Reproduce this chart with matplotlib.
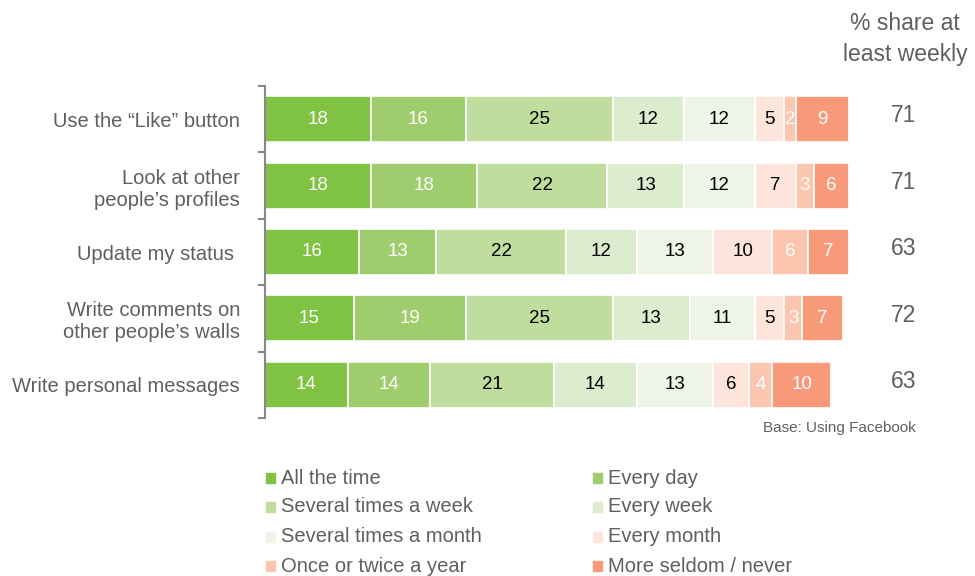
import matplotlib.pyplot as plt
from matplotlib.patches import Rectangle
from matplotlib.transforms import blended_transform_factory
import numpy as np

# Данные
activities = ['Use the \u201cLike\u201d button', 'Look at other\npeople\u2019s profiles',
              'Update my status ', 'Write comments on\nother people\u2019s walls',
              'Write personal messages']
frequencies = ['All the time', 'Every day', 'Several times a week', 'Every week',
               'Several times a month', 'Every month', 'Once or twice a year',
               'More seldom / never']
all_the_time = [18, 18, 16, 15, 14]
every_day = [16, 18, 13, 19, 14]
several_week = [25, 22, 22, 25, 21]
every_week = [12, 13, 12, 13, 14]
several_month = [12, 12, 13, 11, 13]
every_month = [5, 7, 10, 5, 6]
once_twice_year = [2, 3, 6, 3, 4]
seldom_never = [9, 6, 7, 7, 10]
weekly_share = [71, 71, 63, 72, 63]

colors = ['#80c242', '#9fcd6e', '#bfdd9c', '#dcecce', '#eef5e6',
          '#fde5dc', '#fbc5b0', '#f89a7a']
text_colors = ['white', 'white', 'black', 'black', 'black', 'black', 'white', 'white']
gray = '#5f5f5f'

plt.rcParams['font.family'] = ['Liberation Sans', 'DejaVu Sans']


def main():
    fig = plt.figure(figsize=(9.75, 5.76), dpi=100)
    W, H = 975, 576
    # оси: x от 265 до 855 px, y от 86 до 418 px
    ax = fig.add_axes([265 / W, 1 - 418 / H, 590 / W, 332 / H])

    series = [all_the_time, every_day, several_week, every_week,
              several_month, every_month, once_twice_year, seldom_never]
    y = np.arange(len(activities))
    left = np.zeros(len(activities))
    for vals, col, tcol in zip(series, colors, text_colors):
        vals = np.array(vals)
        ax.barh(y, vals, left=left, height=0.69, color=col,
                edgecolor='white', linewidth=1.2)
        for yi, v, l in zip(y, vals, left):
            ax.text(l + v / 2, yi, str(v), ha='center', va='center',
                    color=tcol, fontsize=13.5)
        left += vals

    ax.set_xlim(0, 100)
    ax.set_ylim(len(activities) - 0.5, -0.5)
    ax.set_xticks([])
    ax.set_yticks(y)
    ax.set_yticklabels(activities, fontsize=14.5, color=gray, linespacing=1.2)
    ax.tick_params(axis='y', length=0, pad=18)
    ax.set_yticks(np.arange(-0.5, len(activities)), minor=True)
    ax.tick_params(axis='y', which='minor', length=5, color='#888888', width=1.5)
    for s in ['top', 'right', 'bottom']:
        ax.spines[s].set_visible(False)
    ax.spines['left'].set_color('#888888')
    ax.spines['left'].set_linewidth(1.5)

    # Правая колонка
    trans = blended_transform_factory(fig.transFigure, ax.transData)
    for yi, v in zip(y, weekly_share):
        ax.text(904 / W, yi - 0.05, str(v), transform=trans,
                ha='center', va='center', fontsize=16.5, color=gray)
    fig.text(905 / W, 1 - 39 / H, '% share at\nleast weekly', ha='center',
             va='center', fontsize=16.5, color=gray, linespacing=1.45)
    fig.text(916 / W, 1 - 428 / H, 'Base: Using Facebook', ha='right',
             va='center', fontsize=11, color=gray)

    # Легенда
    xs = [266, 593]
    ys = [478, 507, 537, 566]
    for i, (lab, col) in enumerate(zip(frequencies, colors)):
        cx = xs[i % 2]
        cy = ys[i // 2]
        fig.add_artist(Rectangle((cx / W, 1 - (cy + 5) / H), 9 / W, 10 / H,
                                 transform=fig.transFigure, color=col))
        fig.text((cx + 15) / W, 1 - cy / H, lab, ha='left', va='center',
                 fontsize=14.5, color=gray)

    fig.savefig('out.png', dpi=100)


if __name__ == '__main__':
    main()
